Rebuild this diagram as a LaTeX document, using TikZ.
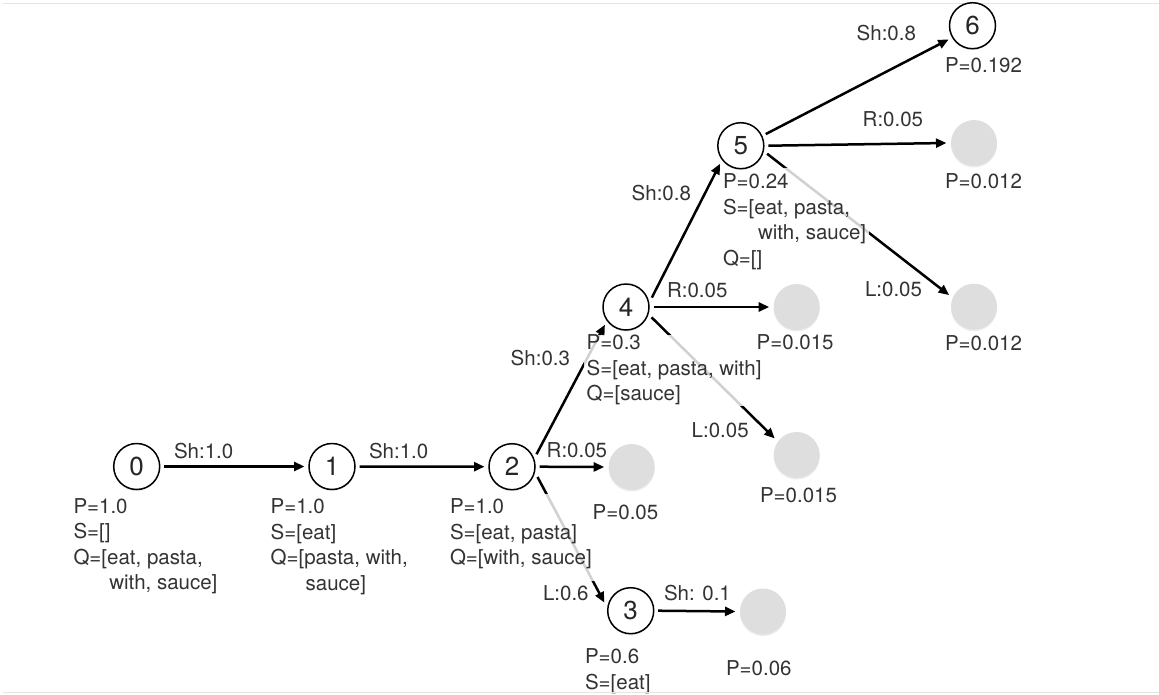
\documentclass[tikz,border=0pt]{standalone}
\usepackage{fontspec}
\setmainfont{TeX Gyre Heros}
\usetikzlibrary{arrows.meta,shadows}

% transitions lie under the text panels, which lie under states and labels
\pgfdeclarelayer{edges}
\pgfdeclarelayer{panels}
\pgfsetlayers{edges,panels,main}

% line strut so that every text line has the same height and depth
\newcommand\lnstrut{\rule[-5pt]{0pt}{16pt}}

\begin{document}
\begin{tikzpicture}[x=1pt,y=-1pt,
  labelfont/.style={font=\fontsize{20.5}{25.5}\selectfont, text=black!80},
  state/.style={circle, draw=black, line width=1.5pt, fill=white,
    minimum size=46pt, inner sep=0pt, outer sep=4.5pt,
    font=\fontsize{26}{30}\selectfont, text=black!85,
    drop shadow={shadow xshift=0pt, shadow yshift=-1.5pt, opacity=0.18}},
  leaf/.style={circle, draw=none, fill=black!13, minimum size=46pt,
    inner sep=0pt, outer sep=4.5pt,
    drop shadow={shadow xshift=0pt, shadow yshift=-1.5pt, opacity=0.15}},
  move/.style={line width=2.5pt, -{Triangle[length=10.5pt,width=9pt]}},
  lbl/.style={labelfont, anchor=base west, inner sep=0pt, outer sep=0pt},
  info/.style={labelfont, anchor=north west, align=left, fill=white,
    fill opacity=0.82, text opacity=1, inner xsep=3pt, inner ysep=3pt,
    outer sep=0pt},
]
\useasboundingbox (0,0) rectangle (1159,694);

% frame rules at top and bottom
\draw[black!10, line width=1pt] (3,3) -- (1159,3);
\draw[black!10, line width=1pt] (3,692) -- (1159,692);

% parser states
\node[state] (n0) at (136.7,466.5) {0};
\node[state] (n1) at (332,466.5) {1};
\node[state] (n2) at (512,466.7) {2};
\node[state] (n3) at (630.7,610.7) {3};
\node[state] (n4) at (626,307) {4};
\node[state] (n5) at (740.8,145.7) {5};
\node[state] (n6) at (972.5,25.7) {6};

% pruned states
\node[leaf] (g2) at (631.7,467) {};
\node[leaf] (g3) at (763,611.5) {};
\node[leaf] (g4r) at (796.7,307) {};
\node[leaf] (g4l) at (796.7,455) {};
\node[leaf] (g5r) at (974,143) {};
\node[leaf] (g5l) at (974,306.7) {};

% transitions
\begin{pgfonlayer}{edges}
\draw[move] (n0.east) -- (n1.west);
\draw[move] (n1.east) -- (n2.west);
\draw[move] (n2.east) -- (g2.west);
\draw[move] (n2.27.8) -- (n4.220);
\draw[move] (n2.-22) -- (n3.163);
\draw[move] (n3.east) -- (g3.west);
\draw[move] (n4.east) -- (g4r.west);
\draw[move] (n4.-22) -- (g4l.143);
\draw[move] (n4.20.3) -- (n5.221);
\draw[move] (n5.25.6) -- (n6.210);
\draw[move] (n5.east) -- (g5r.west);
\draw[move] (n5.-17.7) -- (g5l.155);
\end{pgfonlayer}

% transition labels
\node[lbl] (t01) at (174,458) {Sh:1.0};
\node[lbl] (t12) at (369,458) {Sh:1.0};
\node[lbl] (t2r) at (546.7,457) {R:0.05};
\node[lbl, anchor=base east] (t24) at (570,365) {Sh:0.3};
\node[lbl] (t23) at (543,600) {L:0.6};
\node[lbl] (t3s) at (664,600) {Sh: 0.1};
\node[lbl] (t4r) at (667,297.7) {R:0.05};
\node[lbl] (t4l) at (691.7,437) {L:0.05};
\node[lbl] (t45) at (631.7,200.7) {Sh:0.8};
\node[lbl] (t56) at (856.7,40) {Sh:0.8};
\node[lbl] (t5r) at (862.7,126.7) {R:0.05};
\node[lbl] (t5l) at (865,296.7) {L:0.05};

% probabilities of pruned states and the final state
\node[lbl] (p2r) at (592.7,519) {P=0.05};
\node[lbl] (p3s) at (726,675) {P=0.06};
\node[lbl] (p4r) at (756.7,349) {P=0.015};
\node[lbl] (p4l) at (760,502) {P=0.015};
\node[lbl] (p6) at (945,72.7) {P=0.192};
\node[lbl] (p5r) at (945,188.3) {P=0.012};
\node[lbl] (p5l) at (945,350) {P=0.012};

% state descriptions: probability, stack and queue
\begin{pgfonlayer}{panels}
\node[info] (d0) at (70.5,495.5) {\lnstrut P=1.0\\ \lnstrut S=[]\\ \lnstrut Q=[eat, pasta,\\ \lnstrut\hspace*{35.8pt}with, sauce]};
\node[info] (d1) at (267.7,496) {\lnstrut P=1.0\\ \lnstrut S=[eat]\\ \lnstrut Q=[pasta, with,\\ \lnstrut\hspace*{35pt}sauce]};
\node[info, inner ysep=5pt] (d2) at (447,494) {\lnstrut P=1.0\\ \lnstrut S=[eat, pasta]\\ \lnstrut Q=[with, sauce]\rule[-11pt]{0pt}{1pt}};
\node[info] (d3) at (582,646) {\lnstrut P=0.6\\ \lnstrut S=[eat]};
\node[info, inner ysep=0.5pt] (d4) at (583.7,334.5) {\lnstrut P=0.3\\ \lnstrut S=[eat, pasta, with]\\ \lnstrut Q=[sauce]};
\node[info, inner ysep=6pt] (d5) at (720,168) {\lnstrut P=0.24\\ \lnstrut S=[eat, pasta,\\ \lnstrut\hspace*{35pt}with, sauce]\\ \lnstrut Q=[]};
\end{pgfonlayer}
\end{tikzpicture}
\end{document}
